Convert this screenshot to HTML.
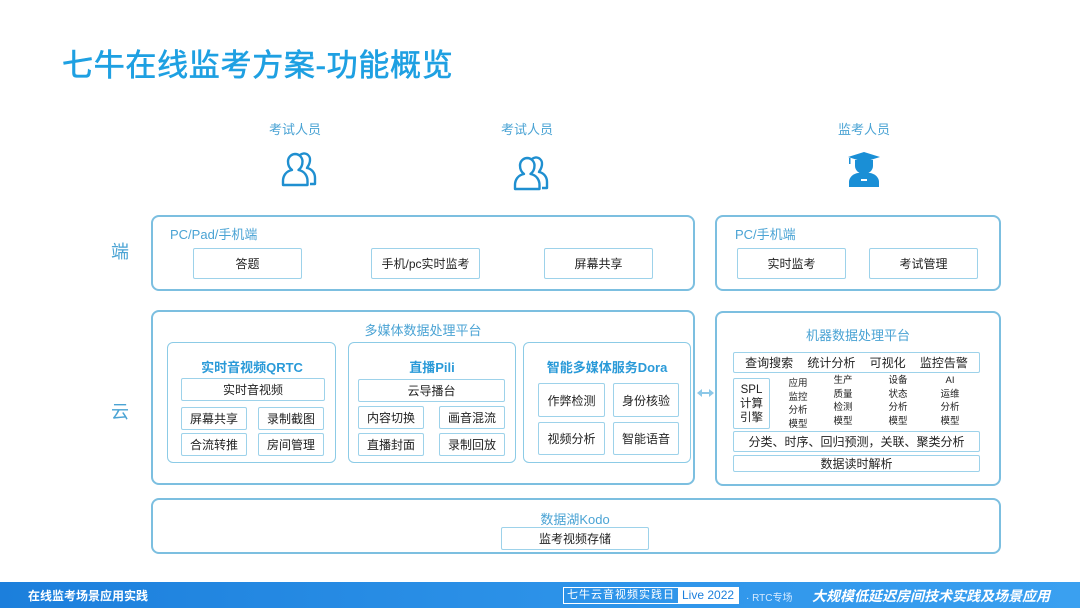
<!DOCTYPE html>
<html><head><meta charset="utf-8"><style>
*{margin:0;padding:0;box-sizing:border-box}
body{width:1080px;height:608px;background:#fff;position:relative;overflow:hidden;font-family:"Liberation Sans","Noto Sans CJK SC",sans-serif;}
.a{position:absolute}
.box{position:absolute;border:2px solid #7cbfe0;border-radius:8px}
.sub{position:absolute;border:1.5px solid #8ccbe6;border-radius:6px}
.it{position:absolute;border:1.5px solid #9dd2ea;border-radius:2px;display:flex;align-items:center;justify-content:center;font-size:12px;color:#222}
.lb{position:absolute;color:#4aa3d4;font-size:13px;white-space:nowrap}
.c{transform:translateX(-50%)}
.ttl{position:absolute;color:#2a9ad8;font-size:13px;font-weight:bold;white-space:nowrap;transform:translateX(-50%)}
.sm{position:absolute;font-size:9.5px;line-height:13.5px;color:#222;text-align:center;transform:translateX(-50%)}
</style></head><body>
<div class="a" style="left:62px;top:40px;font-size:31px;color:#1ea0e2;white-space:nowrap;letter-spacing:0.7px;-webkit-text-stroke:0.6px #1ea0e2">七牛在线监考方案-功能概览</div>

<div class="lb c" style="left:295px;top:119px">考试人员</div>
<div class="lb c" style="left:527px;top:119px">考试人员</div>
<div class="lb c" style="left:864px;top:119px">监考人员</div>

<svg class="a" style="left:281px;top:151px" width="38" height="36" viewBox="0 0 38 36"><g fill="none" stroke="#1f8fd0" stroke-width="2.4" stroke-linejoin="round"><path d="M19 4a6 6 0 0 1 10 5c0 4-2 6-3 8 5 1 8 5 8 10v6h-5"/><path d="M14 3a7.5 7.5 0 0 1 7.5 7.5c0 4-2 7-4 8.5 6 1 9 6 9 11v4H2v-4c0-5 3-10 9-11-2-1.5-4-4.5-4-8.5A7.5 7.5 0 0 1 14 3z" fill="#fff"/></g></svg>
<svg class="a" style="left:513px;top:155px" width="38" height="36" viewBox="0 0 38 36"><g fill="none" stroke="#1f8fd0" stroke-width="2.4" stroke-linejoin="round"><path d="M19 4a6 6 0 0 1 10 5c0 4-2 6-3 8 5 1 8 5 8 10v6h-5"/><path d="M14 3a7.5 7.5 0 0 1 7.5 7.5c0 4-2 7-4 8.5 6 1 9 6 9 11v4H2v-4c0-5 3-10 9-11-2-1.5-4-4.5-4-8.5A7.5 7.5 0 0 1 14 3z" fill="#fff"/></g></svg>
<svg class="a" style="left:845px;top:150px" width="38" height="38" viewBox="0 0 38 38"><g fill="#1a8fd6"><path d="M3 7L19 2l16 5-16 5z"/><path d="M10 10h18v6a9 8 0 0 1-18 0z"/><path d="M4 37v-5c0-5 5-9 10-9h10c5 0 10 4 10 9v5z"/><rect x="4" y="8" width="1.5" height="6"/></g><rect x="16" y="29" width="6" height="2" fill="#fff"/></svg>

<div class="a" style="left:111px;top:238px;font-size:18px;color:#4aa3d4">端</div>
<div class="a" style="left:111px;top:398px;font-size:18px;color:#4aa3d4">云</div>

<div class="box" style="left:151px;top:215px;width:544px;height:76px"></div>
<div class="lb" style="left:170px;top:224px">PC/Pad/手机端</div>
<div class="it" style="left:193px;top:248px;width:109px;height:31px">答题</div>
<div class="it" style="left:371px;top:248px;width:109px;height:31px">手机/pc实时监考</div>
<div class="it" style="left:544px;top:248px;width:109px;height:31px">屏幕共享</div>

<div class="box" style="left:715px;top:215px;width:286px;height:76px"></div>
<div class="lb" style="left:735px;top:224px">PC/手机端</div>
<div class="it" style="left:737px;top:248px;width:109px;height:31px">实时监考</div>
<div class="it" style="left:869px;top:248px;width:109px;height:31px">考试管理</div>

<div class="box" style="left:151px;top:310px;width:544px;height:175px"></div>
<div class="lb c" style="left:423px;top:320px">多媒体数据处理平台</div>

<div class="sub" style="left:167px;top:342px;width:169px;height:121px"></div>
<div class="ttl" style="left:252px;top:357px">实时音视频QRTC</div>
<div class="it" style="left:181px;top:378px;width:144px;height:23px">实时音视频</div>
<div class="it" style="left:181px;top:407px;width:66px;height:23px">屏幕共享</div>
<div class="it" style="left:258px;top:407px;width:66px;height:23px">录制截图</div>
<div class="it" style="left:181px;top:433px;width:66px;height:23px">合流转推</div>
<div class="it" style="left:258px;top:433px;width:66px;height:23px">房间管理</div>

<div class="sub" style="left:348px;top:342px;width:168px;height:121px"></div>
<div class="ttl" style="left:432px;top:357px">直播Pili</div>
<div class="it" style="left:358px;top:379px;width:147px;height:23px">云导播台</div>
<div class="it" style="left:358px;top:406px;width:66px;height:23px">内容切换</div>
<div class="it" style="left:439px;top:406px;width:66px;height:23px">画音混流</div>
<div class="it" style="left:358px;top:433px;width:66px;height:23px">直播封面</div>
<div class="it" style="left:439px;top:433px;width:66px;height:23px">录制回放</div>

<div class="sub" style="left:523px;top:342px;width:168px;height:121px"></div>
<div class="ttl" style="left:607px;top:357px">智能多媒体服务Dora</div>
<div class="it" style="left:538px;top:383px;width:67px;height:34px">作弊检测</div>
<div class="it" style="left:613px;top:383px;width:66px;height:34px">身份核验</div>
<div class="it" style="left:538px;top:422px;width:67px;height:33px">视频分析</div>
<div class="it" style="left:613px;top:422px;width:66px;height:33px">智能语音</div>

<svg class="a" style="left:696px;top:388px" width="19" height="10" viewBox="0 0 19 10"><g fill="#8cc8e8"><path d="M1 5l5-4v8z"/><path d="M18 5l-5-4v8z"/><rect x="5" y="4" width="9" height="2"/></g></svg>

<div class="box" style="left:715px;top:311px;width:286px;height:175px"></div>
<div class="lb c" style="left:858px;top:325px">机器数据处理平台</div>
<div class="it" style="left:733px;top:352px;width:247px;height:21px;justify-content:space-around;padding:0 4px"><span>查询搜索</span><span>统计分析</span><span>可视化</span><span>监控告警</span></div>
<div class="it" style="left:733px;top:378px;width:37px;height:51px;font-size:11.5px;line-height:14px;text-align:center;flex-direction:column">SPL<br>计算<br>引擎</div>
<div class="sm" style="left:798px;top:377px">应用<br>监控<br>分析<br>模型</div>
<div class="sm" style="left:843px;top:374px">生产<br>质量<br>检测<br>模型</div>
<div class="sm" style="left:898px;top:374px">设备<br>状态<br>分析<br>模型</div>
<div class="sm" style="left:950px;top:374px">AI<br>运维<br>分析<br>模型</div>
<div class="it" style="left:733px;top:431px;width:247px;height:21px">分类、时序、回归预测，关联、聚类分析</div>
<div class="it" style="left:733px;top:455px;width:247px;height:17px">数据读时解析</div>

<div class="box" style="left:151px;top:498px;width:850px;height:56px"></div>
<div class="lb c" style="left:575px;top:509px">数据湖Kodo</div>
<div class="it" style="left:501px;top:527px;width:148px;height:23px">监考视频存储</div>

<div class="a" style="left:0;top:582px;width:1080px;height:26px;background:linear-gradient(90deg,#1c7fdc,#2f95ea 60%,#3aa0f0)"></div>
<div class="a" style="left:28px;top:587px;font-size:12px;font-weight:bold;color:#fff">在线监考场景应用实践</div>
<div class="a" style="left:563px;top:587px;height:17px;border:1px solid #fff;display:flex;font-size:11px;color:#fff;line-height:15px"><span style="padding:0 3px;letter-spacing:1px">七牛云音视频实践日</span><span style="background:#fff;color:#1c7fdc;padding:0 4px;font-size:12px">Live 2022</span></div>
<div class="a" style="left:746px;top:589px;font-size:10px;color:#d6eaff">· RTC专场</div>
<div class="a" style="left:812px;top:586px;font-size:14px;font-weight:bold;font-style:italic;color:#fff;white-space:nowrap">大规模低延迟房间技术实践及场景应用</div>
</body></html>
